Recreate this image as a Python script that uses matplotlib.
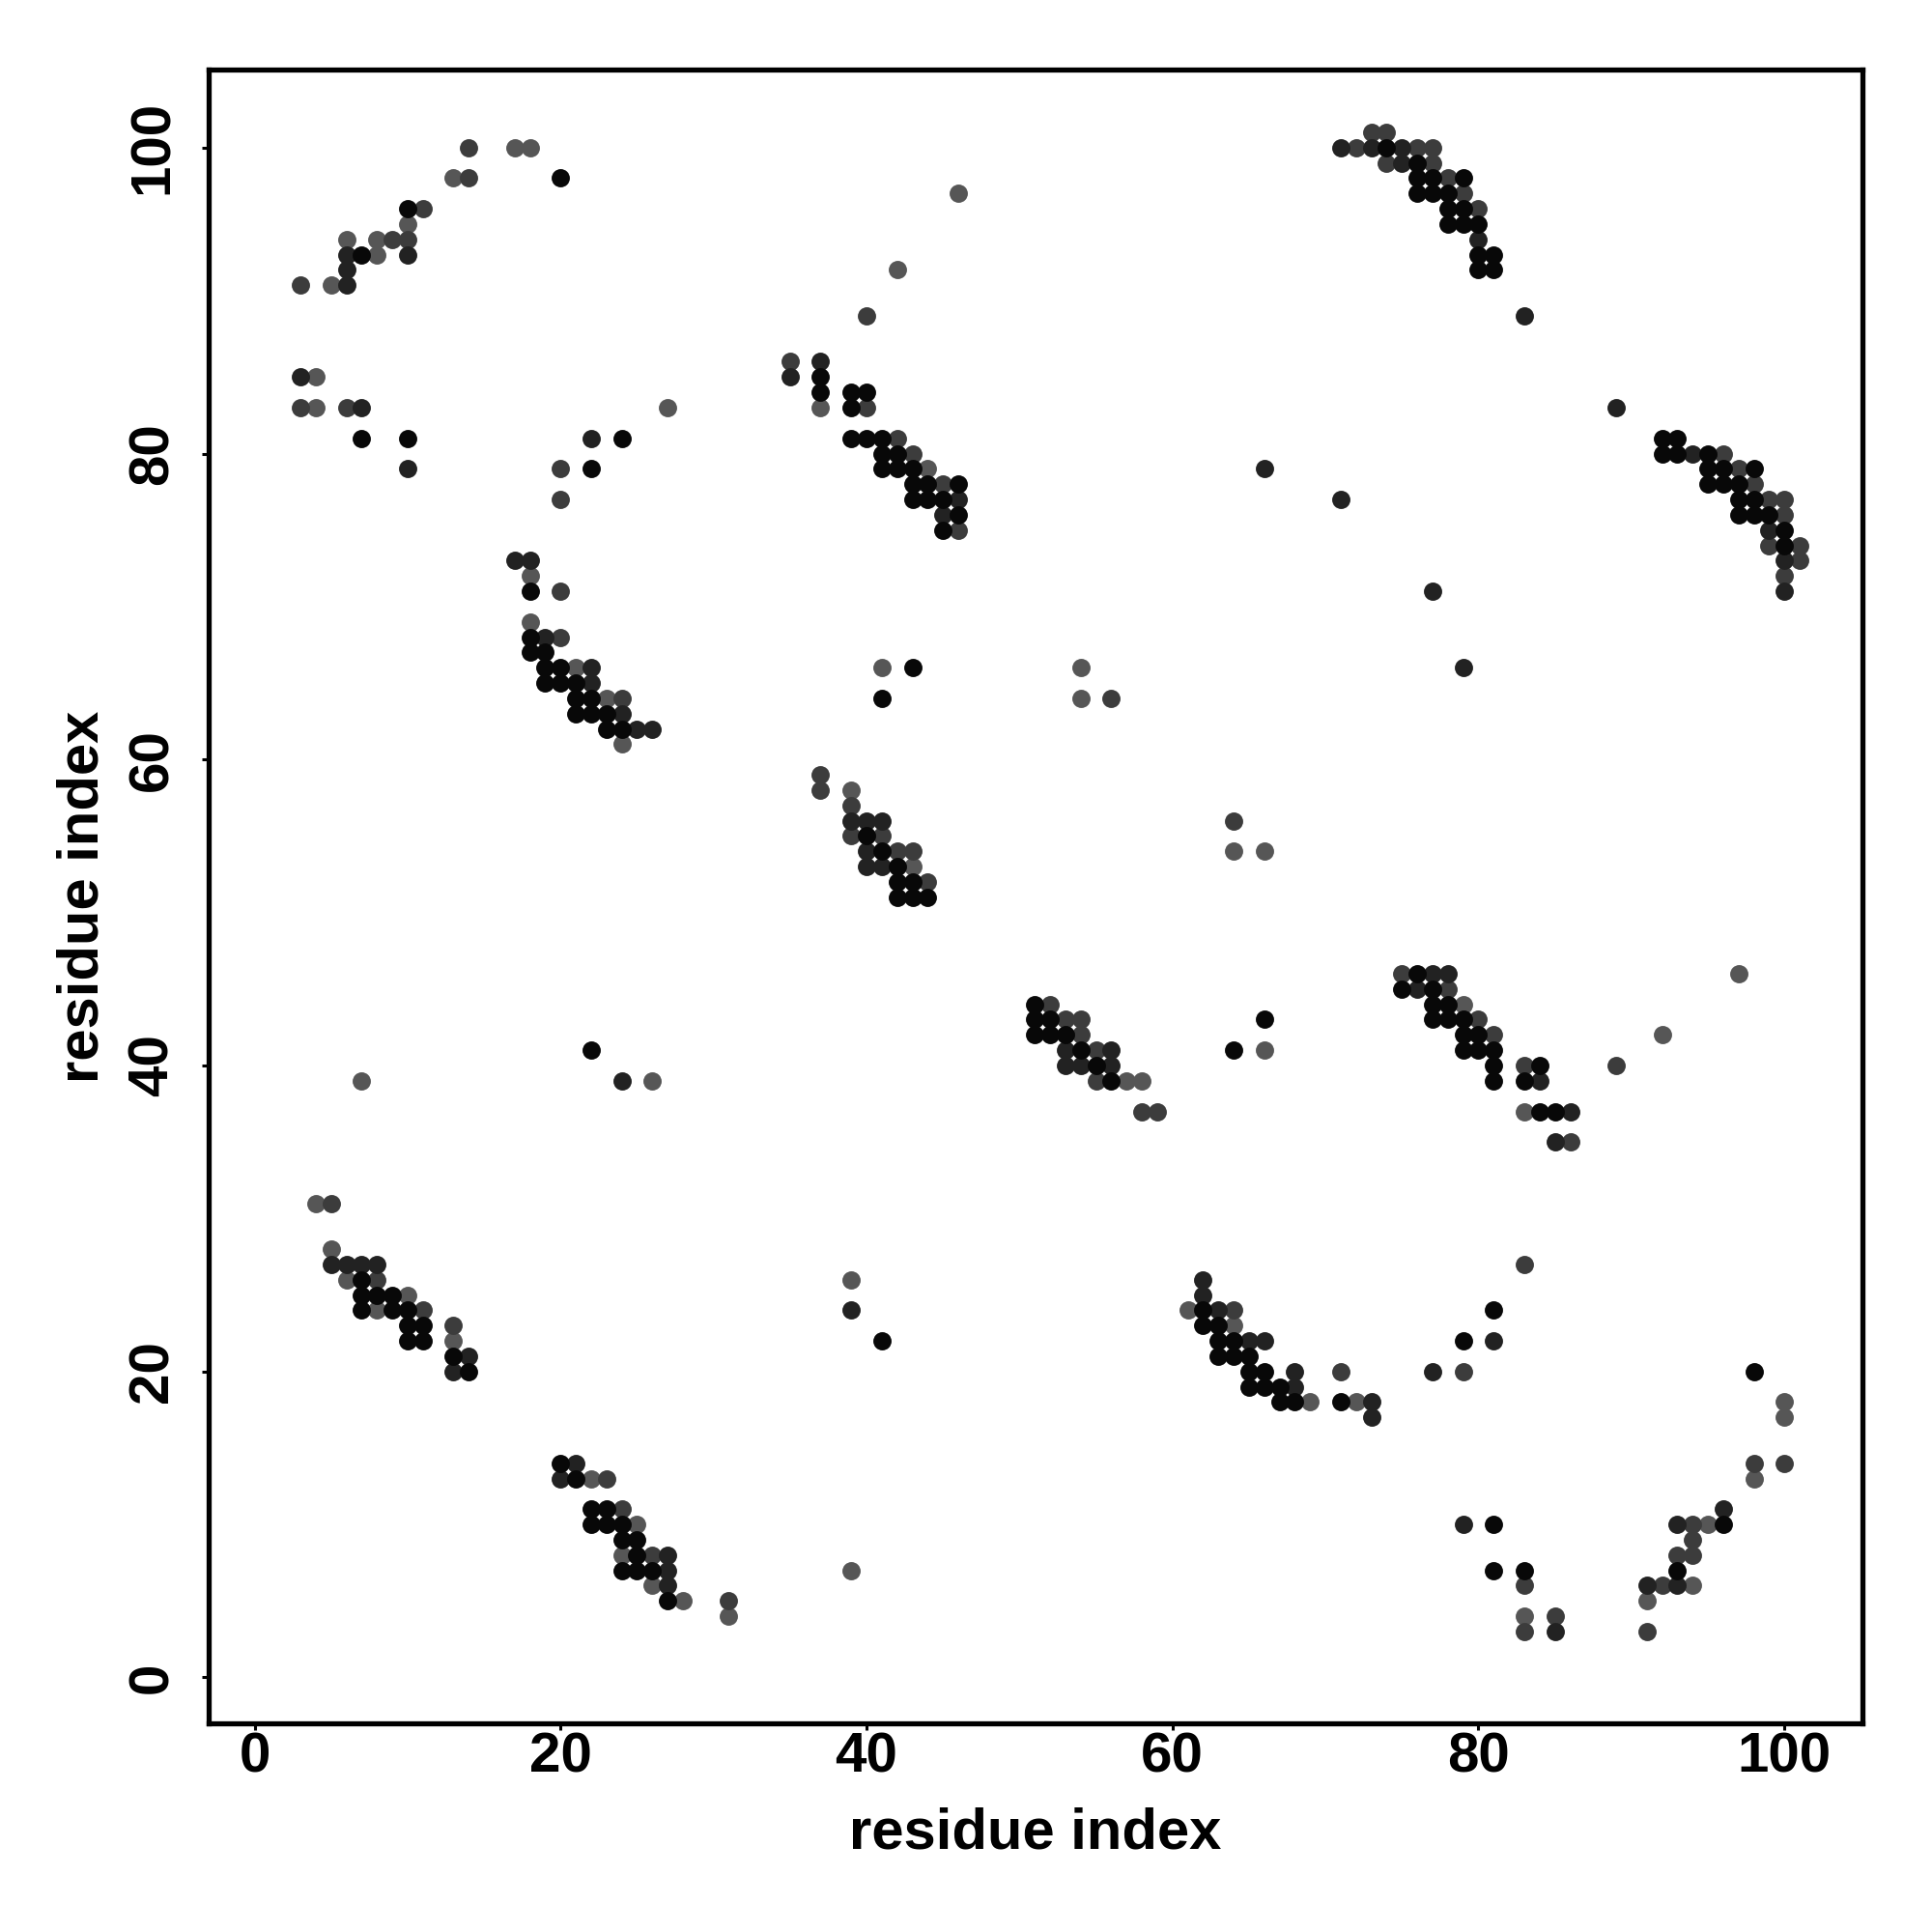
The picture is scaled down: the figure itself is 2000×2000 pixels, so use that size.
import matplotlib
matplotlib.use("Agg")
import matplotlib.pyplot as plt

# contact map: (residue i, residue j) pairs, grouped by grey level of the dot
black_pairs = [
    (20, 98), (10, 96), (7, 93), (7, 81), (10, 81), (24, 81), (22, 79), (18, 71),
    (18, 68), (18, 67), (19, 67), (19, 66), (20, 66), (19, 65), (20, 65), (21, 65),
    (21, 64), (22, 64), (21, 63), (22, 63), (23, 63), (23, 62), (24, 62), (22, 41),
    (37, 85), (37, 84), (39, 84), (40, 84), (39, 83), (39, 81), (40, 81), (41, 81),
    (41, 80), (42, 80), (41, 79), (42, 79), (43, 79), (43, 78), (44, 78), (46, 78),
    (43, 77), (44, 77), (45, 77), (46, 76), (45, 75),
    (74, 100), (76, 99), (76, 98), (77, 98), (79, 98), (76, 97), (77, 97), (78, 97),
    (78, 96), (79, 96), (78, 95), (79, 95), (80, 95), (80, 93), (81, 93), (80, 92),
    (81, 92), (92, 81), (93, 81), (92, 80), (93, 80), (95, 80), (95, 79), (96, 79),
    (98, 79), (95, 78), (96, 78), (97, 78), (97, 77), (98, 77), (97, 76), (98, 76),
    (99, 76), (100, 75), (100, 74),
    (43, 66), (41, 64), (40, 55), (41, 54), (42, 53), (42, 52), (43, 52), (42, 51),
    (43, 51), (44, 51), (51, 44), (51, 43), (52, 43), (51, 42), (52, 42), (53, 42),
    (54, 41), (55, 40), (56, 39), (66, 43), (64, 41),
    (76, 46), (75, 45), (77, 45), (77, 44), (78, 44), (77, 43), (78, 43), (79, 43),
    (79, 42), (80, 42), (79, 41), (80, 41), (81, 41), (81, 40), (84, 40), (81, 39),
    (83, 39), (84, 37), (85, 37),
    (7, 26), (7, 25), (8, 25), (9, 25), (7, 24), (9, 24), (10, 24), (10, 23),
    (11, 23), (10, 22), (11, 22), (13, 21), (14, 20), (20, 14), (21, 13), (22, 11),
    (23, 11), (22, 10), (23, 10), (24, 10), (24, 9), (25, 9), (25, 8), (24, 7),
    (25, 7), (26, 7), (27, 5),
    (41, 22), (62, 24), (62, 23), (63, 23), (63, 22), (64, 22), (63, 21), (64, 21),
    (65, 21), (65, 20), (66, 20), (65, 19), (66, 19), (67, 19), (67, 18), (68, 18),
    (81, 24), (79, 22), (98, 20), (71, 18), (81, 10), (96, 10), (81, 7), (83, 7), (93, 7),
]

dark_pairs = [
    (6, 93), (10, 93), (6, 92), (6, 91), (3, 85), (7, 83), (22, 81), (10, 79),
    (17, 73), (18, 73), (19, 68), (22, 66), (22, 65), (24, 63), (25, 62), (26, 62),
    (24, 39),
    (37, 86), (35, 85), (46, 77), (45, 76), (66, 79),
    (71, 100), (73, 100), (75, 100), (75, 99), (80, 94), (83, 89), (89, 83), (94, 80),
    (99, 75), (100, 73), (100, 71), (71, 77), (77, 71),
    (39, 56), (40, 56), (41, 56), (40, 54), (40, 53), (41, 53), (53, 41), (56, 41),
    (53, 40), (54, 40), (56, 40),
    (79, 66), (77, 46), (78, 46), (76, 45), (84, 39), (86, 37), (85, 35),
    (5, 27), (6, 27), (7, 27), (8, 27), (14, 21), (13, 20), (21, 14), (20, 13),
    (27, 8), (27, 7), (27, 6),
    (39, 24), (62, 26), (62, 25), (63, 24), (65, 22), (66, 22), (68, 20), (68, 19),
    (81, 22), (77, 20), (73, 18), (73, 17), (96, 11), (79, 10), (93, 10), (91, 6),
    (93, 6), (85, 3),
]

midgrey_pairs = [
    (14, 100), (14, 98), (11, 96), (9, 94), (10, 94), (3, 91), (3, 83), (6, 83),
    (20, 79), (20, 77), (20, 71), (20, 68), (24, 64),
    (40, 89), (35, 86), (40, 83), (42, 81), (43, 80), (45, 78), (46, 75),
    (73, 101), (74, 101), (72, 100), (76, 100), (77, 100), (74, 99), (77, 99), (78, 98),
    (79, 97), (80, 96), (96, 80), (97, 79), (98, 78), (99, 77), (100, 77), (100, 76),
    (99, 74), (101, 74), (101, 73), (100, 72),
    (56, 64), (37, 59), (37, 58), (39, 57), (39, 55), (41, 55), (42, 54), (43, 54),
    (44, 52), (64, 56), (52, 44), (53, 43), (54, 43), (54, 42), (55, 41), (55, 39),
    (58, 37), (59, 37),
    (75, 46), (78, 45), (80, 43), (81, 42), (83, 40), (86, 35), (89, 40),
    (5, 31), (8, 26), (11, 24), (13, 23), (23, 13), (24, 11), (26, 8), (31, 5),
    (64, 24),
    (83, 27), (71, 20), (79, 20), (98, 14), (100, 14), (94, 10), (94, 9), (93, 8),
    (94, 8), (83, 6), (92, 6), (85, 4), (83, 3), (91, 3),
]

grey_pairs = [
    (17, 100), (18, 100), (13, 98), (10, 95), (6, 94), (8, 94), (8, 93), (5, 91),
    (4, 85), (4, 83), (27, 83), (18, 72), (18, 69), (21, 66), (23, 64), (24, 61),
    (7, 39), (26, 39),
    (46, 97), (42, 92), (37, 83), (44, 79),
    (41, 66), (54, 66), (54, 64), (39, 58), (43, 53), (64, 54), (66, 54), (57, 39),
    (58, 39), (66, 41),
    (79, 44), (83, 37), (97, 46), (92, 42),
    (4, 31), (5, 28), (6, 26), (10, 25), (8, 24), (13, 22), (22, 13), (25, 10),
    (24, 8), (26, 6), (28, 5), (31, 4),
    (39, 26), (39, 7), (61, 24), (64, 23), (69, 18),
    (72, 18), (100, 18), (100, 17), (98, 13), (95, 10), (94, 6), (91, 5), (83, 4),
]

ticks = [0, 20, 40, 60, 80, 100]

plt.rcParams["font.family"] = ["Liberation Sans", "DejaVu Sans"]
plt.rcParams["font.weight"] = "bold"

fig = plt.figure(figsize=(20, 20), dpi=100)
ax = fig.add_axes([0.108, 0.108, 0.856, 0.856])

groups = [
    (grey_pairs, "#565656"),
    (midgrey_pairs, "#3c3c3c"),
    (dark_pairs, "#222222"),
    (black_pairs, "#080808"),
]
for pairs, colour in groups:
    xs = [p[0] for p in pairs]
    ys = [p[1] for p in pairs]
    ax.scatter(xs, ys, s=185, color=colour, linewidths=0, zorder=2)

ax.set_xlim(-3.0, 105.1)
ax.set_ylim(-3.0, 105.1)
ax.set_xticks(ticks)
ax.set_yticks(ticks)
ax.set_xticklabels([str(t) for t in ticks], fontsize=42, fontweight="bold")
ax.set_yticklabels([str(t) for t in ticks], fontsize=42, fontweight="bold",
                   rotation=90, va="center")

for side in ax.spines.values():
    side.set_linewidth(3.8)
ax.tick_params(axis="both", direction="out", length=5, width=2.2)
ax.tick_params(axis="x", pad=1)
ax.tick_params(axis="y", pad=17)

fig.text(0.536, 1 - 1913 / 2000, "residue index", fontsize=43, fontweight="bold",
         ha="center", va="baseline")
fig.text(0.051, 0.536, "residue index", fontsize=43, fontweight="bold",
         ha="center", va="baseline", rotation=90, rotation_mode="anchor")

fig.savefig("out.png", dpi=100)
